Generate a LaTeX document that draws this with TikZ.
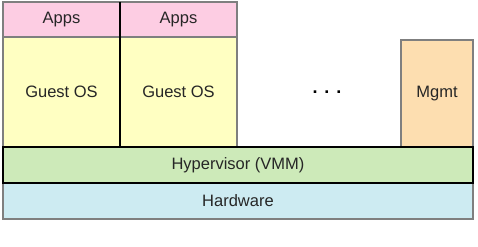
\documentclass[tikz,border=0pt]{standalone}
\usepackage{fontspec}
\setmainfont{Liberation Sans}
\usepackage{xcolor}
\usetikzlibrary{positioning}
\definecolor{appspink}{HTML}{FDCDE3}
\definecolor{osyellow}{HTML}{FFFFC2}
\definecolor{mgmtorange}{HTML}{FDDEB0}
\definecolor{hypgreen}{HTML}{CDEAB9}
\definecolor{hwblue}{HTML}{CDEBF2}
\definecolor{edgegray}{HTML}{7F7F7F}

\begin{document}
\begin{tikzpicture}[
  x=1pt,y=-1pt,
  layer/.style={rectangle,draw=edgegray,line width=1.3pt,inner sep=0pt,outer sep=0pt,text=black!85,font=\fontsize{16.5}{19}\selectfont},
  appbox/.style={layer,fill=appspink,minimum width=117pt,minimum height=35pt},
  osbox/.style={layer,fill=osyellow,minimum width=117pt,minimum height=110pt},
  base/.style={layer,minimum width=470pt,minimum height=36pt}
]
\useasboundingbox (0,0) rectangle (478,246);

% Virtual machines
\node[appbox,anchor=north west] (apps1) at (3,2) {Apps};
\node[appbox,right=0pt of apps1] (apps2) {Apps};
\node[osbox,below=0pt of apps1] (os1) {Guest OS};
\node[osbox,below=0pt of apps2] (os2) {Guest OS};
\draw[line width=1.5pt] (apps1.north east) -- (os1.south east);

% Management domain
\node[layer,fill=mgmtorange,minimum width=72pt,minimum height=107pt,anchor=south east] (mgmt) at (473,147) {Mgmt};
\node[inner sep=0pt,font=\fontsize{18}{18}\selectfont\bfseries] (dots) at (327,92) {.\hspace{7pt}.\hspace{7pt}.};

% Lower layers
\node[base,fill=hwblue,anchor=north west] (hw) at (3,183) {Hardware};
\node[base,fill=hypgreen,draw=black,line width=2.6pt,above=0pt of hw] (hyp) {Hypervisor (VMM)};
\end{tikzpicture}
\end{document}
